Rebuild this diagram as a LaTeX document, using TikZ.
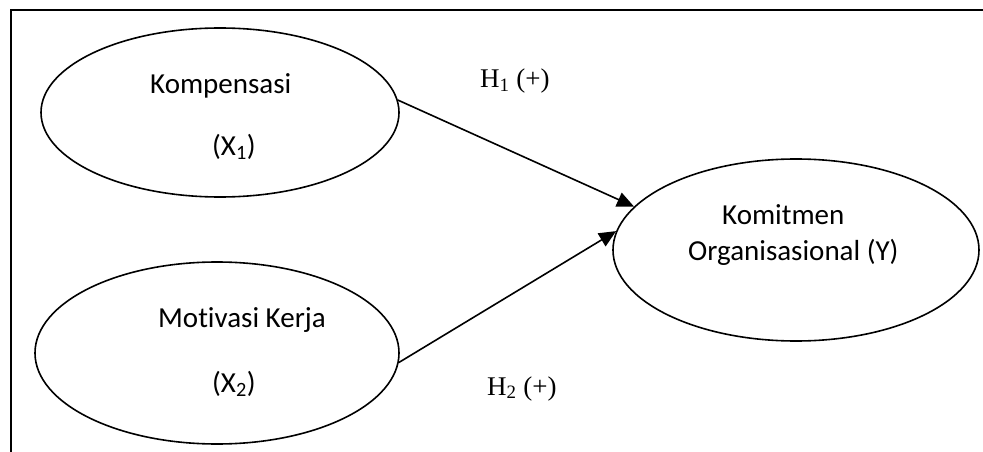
\documentclass[tikz,border=0pt]{standalone}
\usepackage{fontspec}
\setmainfont[Ligatures=NoCommon]{Carlito}
\newfontfamily\timesf{Liberation Serif}
\usetikzlibrary{shapes.geometric,arrows.meta}
\begin{document}
\begin{tikzpicture}[x=1pt,y=-1pt,
  oval/.style={draw,ellipse,line width=1.6pt,inner sep=0pt},
  lbl/.style={anchor=base west,inner sep=0pt,font=\fontsize{29}{34}\selectfont},
  hlbl/.style={anchor=base west,inner sep=0pt,font=\timesf\fontsize{27}{32}\selectfont},
  arr/.style={line width=1.6pt,-{Triangle[length=17pt,width=15pt]}}]
\useasboundingbox (0,0) rectangle (983,452);
\draw[line width=1.8pt] (983,10) -- (11,10) -- (11,452);
\node[oval,minimum width=358pt,minimum height=169pt] (k) at (220,112.5) {};
\node[oval,minimum width=364pt,minimum height=182pt] (m) at (217,353) {};
\node[oval,minimum width=366pt,minimum height=182pt] (y) at (796,250) {};
\node[lbl] (kt) at (150,94) {Kompensasi};
\node[lbl] (kx) at (212,155) {(X\textsubscript{1})};
\node[lbl] (mt) at (158,327) {Motivasi Kerja};
\node[lbl] (mx) at (212,392) {(X\textsubscript{2})};
\node[lbl] (yt) at (722,224) {Komitmen};
\node[lbl] (yo) at (688,260) {Organisasional (Y)};
\node[hlbl] (h1) at (480,88) {H\textsubscript{1} (+)};
\node[hlbl] (h2) at (487,395) {H\textsubscript{2} (+)};
\draw[arr] (k.4.4) -- (y.165.8);
\draw[arr] (m.-3.7) -- (y.174.7);
\end{tikzpicture}
\end{document}
